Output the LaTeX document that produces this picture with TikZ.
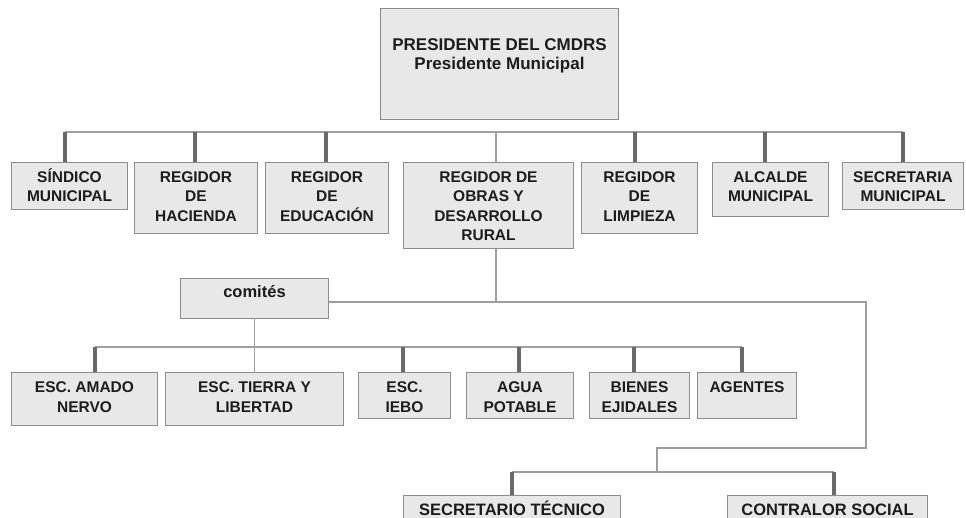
\documentclass[tikz,border=0pt]{standalone}
\usepackage{fontspec}
\setmainfont{Liberation Sans}
\definecolor{boxfill}{RGB}{232,232,232}
\definecolor{boxline}{RGB}{140,140,140}
\definecolor{thinline}{RGB}{158,158,158}
\definecolor{dropline}{RGB}{105,105,105}
\definecolor{txtcol}{RGB}{28,28,28}
\newcommand\mytab[1]{\begin{tabular}[t]{@{}c@{}}#1\end{tabular}}
\tikzset{
  box/.style={draw=boxline, line width=1pt, fill=boxfill, inner sep=0pt, anchor=north west},
  txt/.style={text=txtcol, inner sep=0pt, anchor=base, font=\fontsize{15.5}{19.5}\selectfont\bfseries},
  btxt/.style={txt, font=\fontsize{16.5}{19.5}\selectfont\bfseries},
  ptxt/.style={text=txtcol, inner sep=0pt, anchor=base, font=\fontsize{17}{18.5}\selectfont\bfseries},
  conn/.style={draw=thinline, line width=1.4pt},
  dropl/.style={draw=dropline, line width=3.2pt}
}
\begin{document}
\begin{tikzpicture}[x=1pt,y=1pt]
\clip (0,0) rectangle (966,-518);
\fill[white] (0,0) rectangle (966,-518);

% boxes
\node[box, minimum width=238, minimum height=111] (pres) at (380,-8) {};
\node[box, minimum width=116, minimum height=47] (sind) at (11,-162) {};
\node[box, minimum width=123, minimum height=71] (hac) at (134,-162) {};
\node[box, minimum width=123, minimum height=71] (edu) at (265,-162) {};
\node[box, minimum width=170, minimum height=86] (obr) at (403,-162) {};
\node[box, minimum width=116, minimum height=71] (limp) at (581,-162) {};
\node[box, minimum width=116, minimum height=54] (alc) at (712,-162) {};
\node[box, minimum width=121, minimum height=47] (secm) at (842,-162) {};
\node[box, minimum width=148, minimum height=40] (com) at (180,-278) {};
\node[box, minimum width=146, minimum height=53] (amado) at (11,-372) {};
\node[box, minimum width=178, minimum height=53] (tierra) at (165,-372) {};
\node[box, minimum width=92, minimum height=46] (iebo) at (358,-372) {};
\node[box, minimum width=107, minimum height=46] (agua) at (466,-372) {};
\node[box, minimum width=100, minimum height=46] (bien) at (589,-372) {};
\node[box, minimum width=99, minimum height=46] (agen) at (697,-372) {};
\node[box, minimum width=217, minimum height=40] (sect) at (403,-495) {};
\node[box, minimum width=200, minimum height=40] (contr) at (727,-495) {};

% texts
\node[ptxt] (pres-t) at ([yshift=-43pt]pres.north) {\mytab{PRESIDENTE DEL CMDRS\\Presidente Municipal}};
\node[txt] (sind-t) at ([yshift=-20.5pt]sind.north) {\mytab{SÍNDICO\\MUNICIPAL}};
\node[txt] (hac-t) at ([yshift=-20.5pt]hac.north) {\mytab{REGIDOR\\DE\\HACIENDA}};
\node[txt] (edu-t) at ([yshift=-20.5pt]edu.north) {\mytab{REGIDOR\\DE\\EDUCACIÓN}};
\node[txt] (obr-t) at ([yshift=-20.5pt]obr.north) {\mytab{REGIDOR DE\\OBRAS Y\\DESARROLLO\\RURAL}};
\node[txt] (limp-t) at ([yshift=-20.5pt]limp.north) {\mytab{REGIDOR\\DE\\LIMPIEZA}};
\node[txt] (alc-t) at ([yshift=-20.5pt]alc.north) {\mytab{ALCALDE\\MUNICIPAL}};
\node[txt] (secm-t) at ([yshift=-20.5pt]secm.north) {\mytab{SECRETARIA\\MUNICIPAL}};
\node[txt, font=\fontsize{16.5}{19.5}\selectfont\bfseries] (com-t) at ([yshift=-20pt]com.north) {comités};
\node[txt] (amado-t) at ([yshift=-20.5pt]amado.north) {\mytab{ESC. AMADO\\NERVO}};
\node[txt] (tierra-t) at ([yshift=-20.5pt]tierra.north) {\mytab{ESC. TIERRA Y\\LIBERTAD}};
\node[txt] (iebo-t) at ([yshift=-20.5pt]iebo.north) {\mytab{ESC.\\IEBO}};
\node[txt] (agua-t) at ([yshift=-20.5pt]agua.north) {\mytab{AGUA\\POTABLE}};
\node[txt] (bien-t) at ([yshift=-20.5pt]bien.north) {\mytab{BIENES\\EJIDALES}};
\node[txt] (agen-t) at ([yshift=-20.5pt]agen.north) {AGENTES};
\node[btxt] (sect-t) at ([yshift=-20.5pt]sect.north) {SECRETARIO TÉCNICO};
\node[btxt] (contr-t) at ([yshift=-20.5pt]contr.north) {CONTRALOR SOCIAL};

% top bus
\coordinate (bs) at (65,-132);
\coordinate (bh) at (195,-132);
\coordinate (be) at (326,-132);
\coordinate (bo) at (496,-132);
\coordinate (bl) at (635,-132);
\coordinate (ba) at (765,-132);
\coordinate (bsm) at (903,-132);
\draw[conn] (bs) -- (bsm);
\draw[dropl] (bs) -- (bs |- sind.north);
\draw[dropl] (bh) -- (bh |- hac.north);
\draw[dropl] (be) -- (be |- edu.north);
\draw[conn] (bo) -- (bo |- obr.north);
\draw[dropl] (bl) -- (bl |- limp.north);
\draw[dropl] (ba) -- (ba |- alc.north);
\draw[dropl] (bsm) -- (bsm |- secm.north);

% from obras down
\coordinate (j1) at (496,-302);
\coordinate (r1) at (866,-302);
\coordinate (r2) at (866,-448);
\coordinate (l2) at (657,-448);
\coordinate (j2) at (657,-472);
\draw[conn] (j1 |- obr.south) -- (j1);
\draw[conn] (com.east |- j1) -- (j1) -- (r1) -- (r2) -- (l2) -- (j2);

% bottom bus
\coordinate (dsec) at (512,-472);
\coordinate (dcon) at (834,-472);
\draw[conn] (dsec) -- (dcon);
\draw[dropl] (dsec) -- (dsec |- sect.north);
\draw[dropl] (dcon) -- (dcon |- contr.north);

% comites bus
\draw[conn] (com.south) -- (tierra.north);
\coordinate (d1) at (95,-347);
\coordinate (d2) at (403,-347);
\coordinate (d3) at (519,-347);
\coordinate (d4) at (634,-347);
\coordinate (d5) at (742,-347);
\draw[conn] (d1) -- (d5);
\draw[dropl] (d1) -- (d1 |- amado.north);
\draw[dropl] (d2) -- (d2 |- iebo.north);
\draw[dropl] (d3) -- (d3 |- agua.north);
\draw[dropl] (d4) -- (d4 |- bien.north);
\draw[dropl] (d5) -- (d5 |- agen.north);
\end{tikzpicture}
\end{document}
